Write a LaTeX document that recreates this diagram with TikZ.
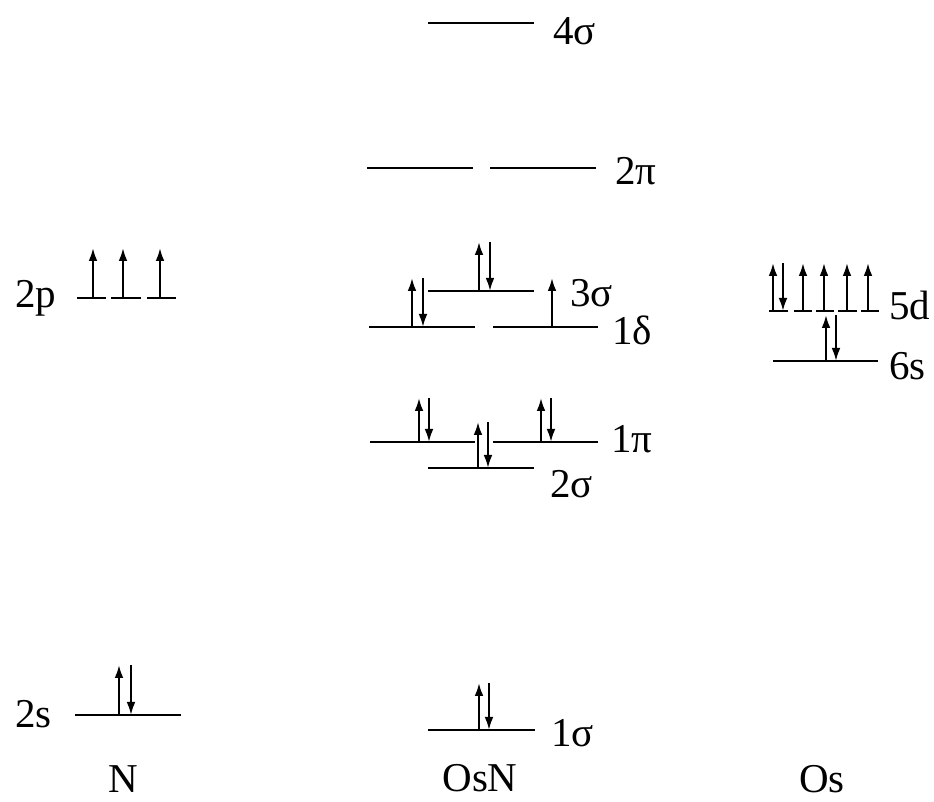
\documentclass[tikz,border=0pt]{standalone}
\usepackage{fontspec}
\setmainfont{Liberation Serif}
\usetikzlibrary{arrows.meta}
\tikzset{
  level/.style={line width=1.3pt},
  spin/.style={line width=1.1pt,-{Latex[length=6.5pt,width=4.4pt]}},
  lbl/.style={inner sep=0pt,anchor=base west,font=\fontsize{20.5}{24}\selectfont},
  caption/.style={inner sep=0pt,anchor=base,font=\fontsize{20.5}{24}\selectfont}
}
\newcommand\spinup[3]{\draw[spin] (#1,#2) -- (#1,#3);}
\newcommand\spindown[3]{\draw[spin] (#1,#3) -- (#1,#2);}
\begin{document}
\begin{tikzpicture}[x=0.5pt,y=-0.5pt]
\useasboundingbox (0,0) rectangle (934,802);
% ---- N ----
\draw[level] (77,298) -- (106,298);
\draw[level] (111,298) -- (141,298);
\draw[level] (147,298) -- (176,298);
\spinup{93}{298}{248}
\spinup{123}{298}{248}
\spinup{160}{298}{248}
\node[lbl] (l2p) at (15,308) {2p};
\draw[level] (75,715) -- (181,715);
\spinup{119}{715}{665}
\spindown{131}{715}{665}
\node[lbl] (l2s) at (15,728) {2s};
\node[caption] (cN) at (123,793) {N};
% ---- OsN ----
\draw[level] (428,23) -- (534,23);
\node[lbl] (l4s) at (553,45) {4σ};
\draw[level] (367,168) -- (473,168);
\draw[level] (490,168) -- (596,168);
\node[lbl] (l2pi) at (615,185) {2π};
\draw[level] (428,291) -- (534,291);
\spinup{479}{291}{242}
\spindown{490}{291}{242}
\node[lbl] (l3s) at (570,307) {3σ};
\draw[level] (369,327) -- (475,327);
\draw[level] (493,327) -- (598,327);
\spinup{412}{327}{278}
\spindown{423}{327}{278}
\spinup{552}{327}{278}
\node[lbl] (l1d) at (612,345) {1δ};
\draw[level] (370,442) -- (475,442);
\draw[level] (493,442) -- (598,442);
\spinup{419}{442}{398}
\spindown{429}{442}{398}
\spinup{541}{442}{398}
\spindown{551}{442}{398}
\node[lbl] (l1pi) at (611,453) {1π};
\draw[level] (428,468) -- (534,468);
\spinup{478}{468}{422}
\spindown{488}{468}{422}
\node[lbl] (l2sg) at (550,498) {2σ};
\draw[level] (428,730) -- (535,730);
\spinup{479}{730}{683}
\spindown{489}{730}{683}
\node[lbl] (l1sg) at (551,747) {1σ};
\node[caption] (cOsN) at (480,792) {OsN};
% ---- Os ----
\draw[level] (769,311) -- (788,311);
\draw[level] (794,311) -- (812,311);
\draw[level] (816,311) -- (834,311);
\draw[level] (838,311) -- (857,311);
\draw[level] (861,311) -- (879,311);
\spinup{773}{311}{263}
\spindown{783}{311}{263}
\spinup{803}{311}{263}
\spinup{824}{311}{263}
\spinup{847}{311}{263}
\spinup{868}{311}{263}
\node[lbl] (l5d) at (889,320) {5d};
\draw[level] (773,361) -- (878,361);
\spinup{826}{361}{315}
\spindown{836}{361}{315}
\node[lbl] (l6s) at (889,380) {6s};
\node[caption] (cOs) at (822,793) {Os};
\end{tikzpicture}
\end{document}
